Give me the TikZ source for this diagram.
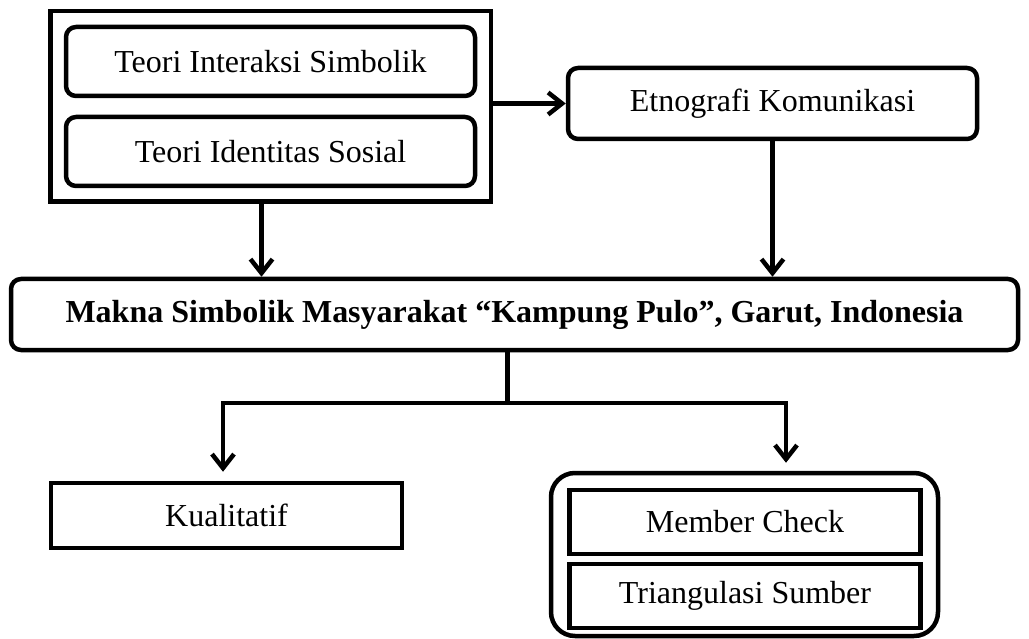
\documentclass[tikz,border=0pt]{standalone}
\usepackage{fontspec}
\setmainfont{Liberation Serif}
\usepackage{tikz}
\usetikzlibrary{arrows.meta, positioning, fit, calc}

\tikzset{
  rbox/.style={draw, line width=4.5pt, rounded corners=10pt, inner sep=0pt, align=center},
  sbox/.style={draw, line width=4.5pt, inner sep=0pt, align=center},
  txt/.style={font=\fontsize{32}{38}\selectfont},
  conn/.style={line width=4.5pt, >={Straight Barb[length=14pt,width=22pt]}}
}

\begin{document}
\begin{tikzpicture}[x=1pt, y=-1pt]
            \useasboundingbox (0,0) rectangle (1029,639);
            % teori
            \node[rbox, txt, minimum width=409pt, minimum height=69pt] (tis) at (270.5,61.5) {Teori Interaksi Simbolik};
            \node[rbox, txt, minimum width=409pt, minimum height=69pt, below=16.5pt of tis] (tid) {Teori Identitas Sosial};
            \node[sbox, fit=(tis)(tid), inner sep=13.5pt] (group) {};
            \node[rbox, txt, minimum width=409pt, minimum height=71pt] (etno) at (772.5,103.5) {Etnografi Komunikasi};
            % makna
            \node[rbox, font=\fontsize{32}{38}\selectfont\bfseries, minimum width=1007pt, minimum height=71pt] (makna) at (514.5,314.5) {Makna Simbolik Masyarakat “Kampung Pulo”, Garut, Indonesia};
            % metode
            \node[sbox, txt, minimum width=351pt, minimum height=65pt] (kual) at (226.5,515.5) {Kualitatif};
            \node[sbox, txt, minimum width=351pt, minimum height=64pt] (member) at (745,522) {Member Check};
            \node[sbox, txt, minimum width=351pt, minimum height=64pt, below=5.5pt of member] (triang) {Triangulasi Sumber};
            \node[draw, line width=4.5pt, rounded corners=24pt, minimum width=387pt, minimum height=163pt] (valid) at (744.5,554.5) {};
            % panah
            \coordinate (bl) at (223,403);
            \coordinate (br) at (786,403);
            \draw[conn, ->] (group.east |- etno.west) -- (etno.west);
            \draw[conn, ->] ([xshift=-9pt]group.south) -- ([xshift=-9pt]group.south |- makna.north);
            \draw[conn, ->] (etno.south) -- (etno.south |- makna.north);
            \draw[conn] ([xshift=-7pt]makna.south) -- ([xshift=-7pt]makna.south |- bl);
            \draw[conn, <->, shorten <=9pt, shorten >=8pt] (bl |- kual.north) -- (bl) -- (br) -- (br |- valid.north);
        \end{tikzpicture}
\end{document}
